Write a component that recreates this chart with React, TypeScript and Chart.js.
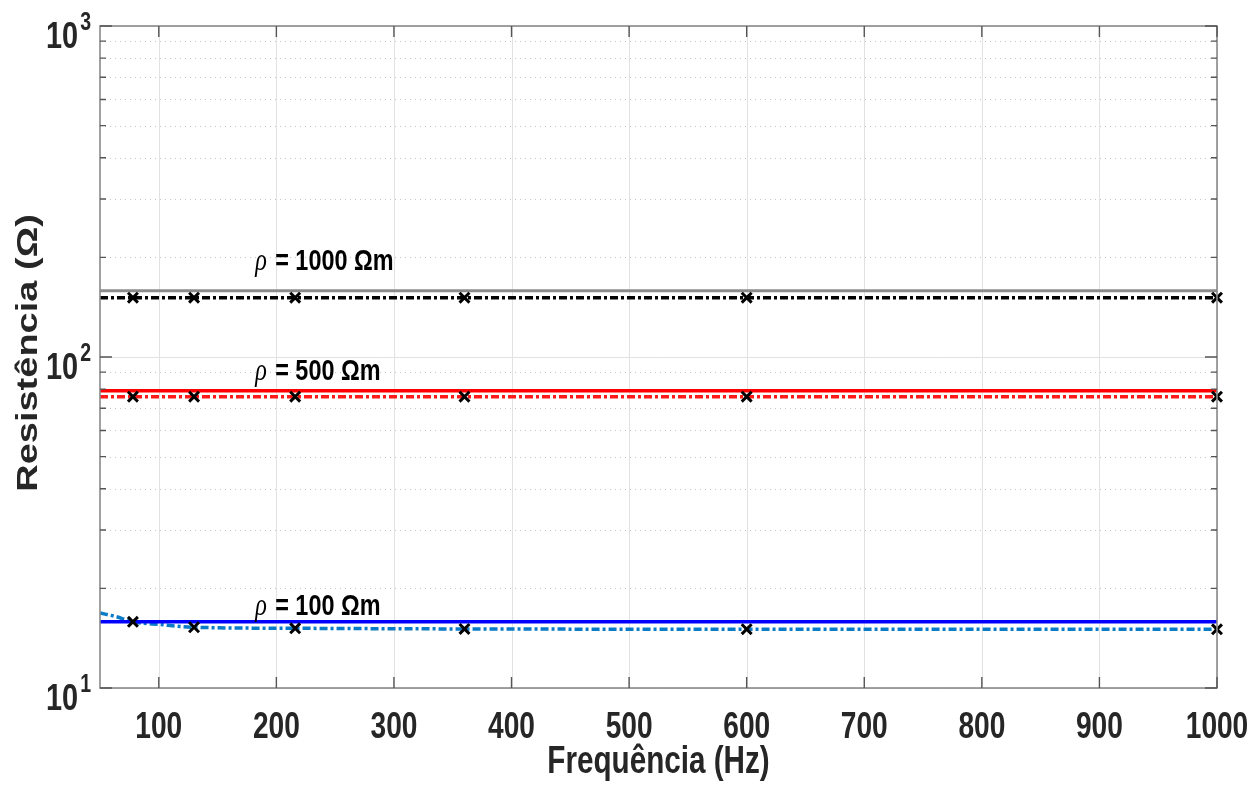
import React, { useEffect, useRef } from "react";
import { Chart, registerables } from "chart.js";

Chart.register(...registerables);

const FONT = "'Liberation Sans', Arial, sans-serif";
const TEXT = "#262626";
const SQUEEZE = 0.78;

// ---- ticks ----
const xTickValues = [100, 200, 300, 400, 500, 600, 700, 800, 900, 1000];
const xTickLabels = ["100", "200", "300", "400", "500", "600", "700", "800", "900", "1000"];
const yTickValues = [10, 100, 1000];
const yTickBase = "10";
const yTickExponents = ["1", "2", "3"];
const yMinorValues = [20, 30, 40, 50, 60, 70, 80, 90, 200, 300, 400, 500, 600, 700, 800, 900];

// ---- series ----
const freqRange = [50, 1000];
const rho1000Analytic = [158.6, 158.6];
const rho500Analytic = [79.1, 79.1];
const rho100Analytic = [15.85, 15.85];

const rho1000Dash = [151.1, 151.1];
const rho500Dash = [75.9, 75.9];
const freq100Dash = [50, 63, 78, 101, 130, 216, 360, 600, 1000];
const rho100Dash = [16.85, 16.45, 15.85, 15.55, 15.26, 15.15, 15.08, 15.05, 15.04];

const freqMarkers = [78, 130, 216, 360, 600, 1000];
const rho1000Markers = [151.1, 151.1, 151.1, 151.1, 151.1, 151.1];
const rho500Markers = [75.9, 75.9, 75.9, 75.9, 75.9, 75.9];
const rho100Markers = [15.85, 15.26, 15.15, 15.08, 15.05, 15.04];

// ---- annotations ----
const labelTexts = ["= 1000 Ωm", "= 500 Ωm", "= 100 Ωm"];
const labelX = [182, 182, 182];
const labelY = [183.1, 85.2, 16.6];

const xTitle = "Frequência (Hz)";
const yTitle = "Resistência (Ω)";

const pts = (xs: number[], ys: number[]) => xs.map((x, i) => ({ x, y: ys[i] }));

function drawText(
  ctx: CanvasRenderingContext2D,
  text: string,
  x: number,
  y: number,
  font: string,
  align: CanvasTextAlign,
  color: string,
  rotated = false
) {
  ctx.save();
  ctx.translate(x, y);
  if (rotated) {
    ctx.rotate(-Math.PI / 2);
    ctx.scale(1, SQUEEZE);
  } else {
    ctx.scale(SQUEEZE, 1);
  }
  ctx.font = font;
  ctx.fillStyle = color;
  ctx.textAlign = align;
  ctx.textBaseline = "alphabetic";
  ctx.fillText(text, 0, 0);
  ctx.restore();
}

function textWidth(ctx: CanvasRenderingContext2D, text: string, font: string) {
  ctx.save();
  ctx.font = font;
  const w = ctx.measureText(text).width * SQUEEZE;
  ctx.restore();
  return w;
}

const matlabAxes = {
  id: "matlabAxes",
  beforeDatasetsDraw(chart: any) {
    const { ctx, chartArea: a, scales } = chart;
    const x = scales.x;
    const y = scales.y;
    ctx.save();
    ctx.lineWidth = 1;
    ctx.strokeStyle = "#e2e2e2";
    ctx.setLineDash([]);
    xTickValues.forEach((v) => {
      const px = Math.round(x.getPixelForValue(v)) + 0.5;
      ctx.beginPath();
      ctx.moveTo(px, a.top);
      ctx.lineTo(px, a.bottom);
      ctx.stroke();
    });
    yTickValues.forEach((v) => {
      const py = Math.round(y.getPixelForValue(v)) + 0.5;
      ctx.beginPath();
      ctx.moveTo(a.left, py);
      ctx.lineTo(a.right, py);
      ctx.stroke();
    });
    ctx.strokeStyle = "#c4c4c4";
    ctx.setLineDash([1, 4]);
    yMinorValues.forEach((v) => {
      const py = Math.round(y.getPixelForValue(v)) + 0.5;
      ctx.beginPath();
      ctx.moveTo(a.left, py);
      ctx.lineTo(a.right, py);
      ctx.stroke();
    });
    ctx.restore();
  },
  afterDatasetsDraw(chart: any) {
    const { ctx, chartArea: a, scales } = chart;
    const x = scales.x;
    const y = scales.y;
    ctx.save();
    ctx.setLineDash([]);
    ctx.strokeStyle = "#8a8a8a";
    ctx.lineWidth = 1.6;
    ctx.strokeRect(a.left, a.top, a.right - a.left, a.bottom - a.top);
    ctx.lineWidth = 1.4;
    ctx.strokeStyle = "#555555";
    xTickValues.forEach((v) => {
      const px = x.getPixelForValue(v);
      ctx.beginPath();
      ctx.moveTo(px, a.bottom);
      ctx.lineTo(px, a.bottom - 11);
      ctx.moveTo(px, a.top);
      ctx.lineTo(px, a.top + 11);
      ctx.stroke();
    });
    yTickValues.forEach((v) => {
      const py = y.getPixelForValue(v);
      ctx.beginPath();
      ctx.moveTo(a.left, py);
      ctx.lineTo(a.left + 12, py);
      ctx.moveTo(a.right, py);
      ctx.lineTo(a.right - 12, py);
      ctx.stroke();
    });
    yMinorValues.forEach((v) => {
      const py = y.getPixelForValue(v);
      ctx.beginPath();
      ctx.moveTo(a.left, py);
      ctx.lineTo(a.left + 6, py);
      ctx.moveTo(a.right, py);
      ctx.lineTo(a.right - 6, py);
      ctx.stroke();
    });

    // x tick labels
    const xFont = `bold 36px ${FONT}`;
    xTickValues.forEach((v, i) => {
      drawText(ctx, xTickLabels[i], x.getPixelForValue(v), a.bottom + 50, xFont, "center", TEXT);
    });
    // x title
    drawText(ctx, xTitle, (a.left + a.right) / 2, a.bottom + 85, `bold 38px ${FONT}`, "center", TEXT);
    // y title
    drawText(ctx, yTitle, 37, (a.top + a.bottom) / 2 - 4, `bold 38px ${FONT}`, "center", TEXT, true);

    // y tick labels 10^n
    yTickValues.forEach((v, i) => {
      const py = y.getPixelForValue(v);
      const rightX = a.left - 9;
      const expFont = `bold 25px ${FONT}`;
      const ew = textWidth(ctx, yTickExponents[i], expFont);
      drawText(ctx, yTickExponents[i], rightX, py + 4, expFont, "right", TEXT);
      drawText(ctx, yTickBase, rightX - ew - 2, py + 22, `bold 37px ${FONT}`, "right", TEXT);
    });

    // annotations
    labelTexts.forEach((t, i) => {
      const px = x.getPixelForValue(labelX[i]);
      const py = y.getPixelForValue(labelY[i]);
      drawText(ctx, "ρ", px, py, `italic 31px 'Liberation Serif', serif`, "left", "#000");
      drawText(ctx, t, px + 20, py, `bold 30px ${FONT}`, "left", "#000");
    });
    ctx.restore();
  },
};

export default function App() {
  const ref = useRef<HTMLCanvasElement | null>(null);
  useEffect(() => {
    document.body.style.margin = "0";
    const canvas = ref.current!;
    const dashDot = [8, 3, 3, 3];
    const markerStyle = {
      showLine: false,
      pointStyle: "crossRot",
      pointRadius: 7,
      pointBorderWidth: 3,
      borderColor: "#000",
      backgroundColor: "#000",
      clip: false,
      order: 0,
    };
    const chart = new Chart(canvas, {
      type: "line",
      data: {
        datasets: [
          { data: pts(freqMarkers, rho1000Markers), ...markerStyle } as any,
          { data: pts(freqMarkers, rho500Markers), ...markerStyle } as any,
          { data: pts(freqMarkers, rho100Markers), ...markerStyle } as any,
          {
            data: pts(freqRange, rho1000Analytic),
            borderColor: "#8c8c8c",
            borderWidth: 3,
            pointRadius: 0,
            order: 2,
          },
          {
            data: pts(freqRange, rho1000Dash),
            borderColor: "#000000",
            borderWidth: 3.5,
            borderDash: dashDot,
            pointRadius: 0,
            order: 1,
          },
          {
            data: pts(freqRange, rho500Analytic),
            borderColor: "#ff0000",
            borderWidth: 3.5,
            pointRadius: 0,
            order: 2,
          },
          {
            data: pts(freqRange, rho500Dash),
            borderColor: "#ff1a1a",
            borderWidth: 3.5,
            borderDash: dashDot,
            pointRadius: 0,
            order: 1,
          },
          {
            data: pts(freq100Dash, rho100Dash),
            borderColor: "#0a7bc6",
            borderWidth: 3.5,
            borderDash: dashDot,
            pointRadius: 0,
            cubicInterpolationMode: "monotone",
            order: 2,
          },
          {
            data: pts(freqRange, rho100Analytic),
            borderColor: "#0000ff",
            borderWidth: 3.5,
            pointRadius: 0,
            order: 1,
          },
        ],
      },
      options: {
        responsive: false,
        animation: false,
        devicePixelRatio: 1,
        layout: { padding: { top: 26, right: 35, left: 0, bottom: 0 } },
        plugins: { legend: { display: false }, tooltip: { enabled: false } },
        scales: {
          x: {
            type: "linear",
            min: 50,
            max: 1000,
            grid: { display: false },
            border: { display: false },
            ticks: { display: false },
            afterFit: (s: any) => {
              s.height = 108;
            },
          },
          y: {
            type: "logarithmic",
            min: 10,
            max: 1000,
            grid: { display: false },
            border: { display: false },
            ticks: { display: false },
            afterFit: (s: any) => {
              s.width = 100;
            },
          },
        },
      } as any,
      plugins: [matlabAxes],
    });
    return () => chart.destroy();
  }, []);
  return (
    <div style={{ width: 1252, height: 796, background: "#fff" }}>
      <canvas ref={ref} width={1252} height={796} />
    </div>
  );
}
